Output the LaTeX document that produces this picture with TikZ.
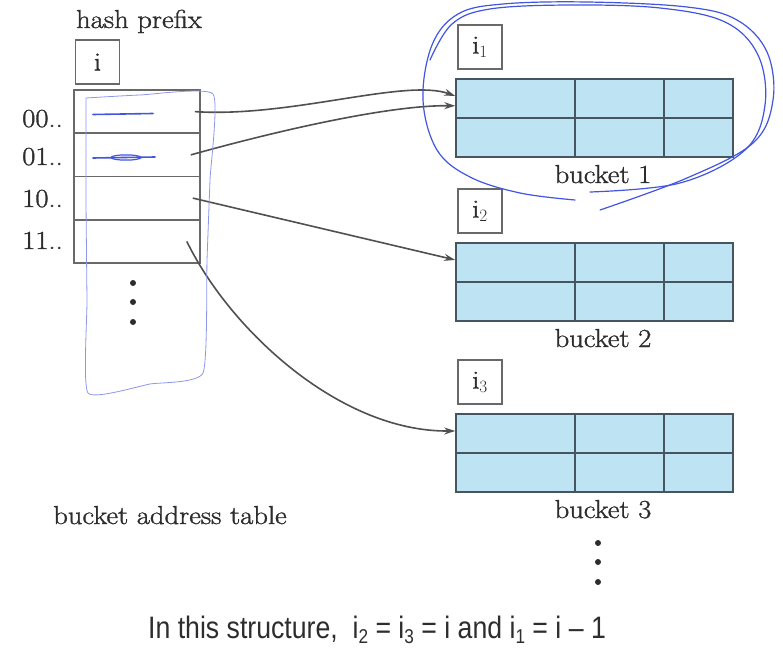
\documentclass[tikz,border=0pt]{standalone}
\usepackage{fontspec}
\usetikzlibrary{arrows.meta}
\newfontfamily\capfont[FakeStretch=0.86]{Liberation Sans}
\newfontfamily\serfont[FakeBold=1.3,FakeStretch=1.1]{Latin Modern Roman}
\definecolor{inkgray}{RGB}{45,45,45}
\definecolor{boxgray}{RGB}{105,105,105}
\definecolor{gridgray}{RGB}{70,85,95}
\definecolor{bucketblue}{RGB}{190,227,242}
\definecolor{ptrgray}{RGB}{80,80,80}
\definecolor{pen}{RGB}{65,85,225}
\definecolor{penlight}{RGB}{140,150,235}
\newcommand{\lbl}{\serfont\fontsize{26}{30}\selectfont}
\newcommand{\capsub}[1]{\raisebox{-0.35ex}{\fontsize{20}{20}\selectfont #1}}

\begin{document}
\begin{tikzpicture}[x=1pt,y=1pt,yscale=-1,
  txt/.style={font=\lbl,text=inkgray,inner sep=0pt},
  smallbox/.style={draw=boxgray,line width=1.6pt,minimum width=44pt,minimum height=44pt,inner sep=0pt,font=\lbl,text=inkgray},
  tabrow/.style={draw=boxgray,line width=1.6pt,minimum width=126pt,minimum height=43.25pt,inner sep=0pt},
  bucket/.style={draw=gridgray,line width=1.6pt,fill=bucketblue,minimum width=277pt,minimum height=78pt,inner sep=0pt},
  grid/.style={draw=gridgray,line width=1.6pt},
  ptr/.style={draw=ptrgray,line width=1.6pt,-{Stealth[length=11pt,width=7pt]}},
  hand/.style={draw=pen,line width=1.2pt,line cap=round,line join=round}]
\useasboundingbox (0,0) rectangle (783,655);

% bucket address table
\node[txt,anchor=base] (hp) at (139,28) {hash prefix};
\node[smallbox] (ibox) at (97.5,62) {i};
\node[tabrow] (r0) at (137,111.6) {};
\node[tabrow] (r1) at (137,154.9) {};
\node[tabrow] (r2) at (137,198.1) {};
\node[tabrow] (r3) at (137,241.4) {};
\node[txt,anchor=base east] (l0) at (63,127) {00..};
\node[txt,anchor=base east] (l1) at (63,165) {01..};
\node[txt,anchor=base east] (l2) at (63,207) {10..};
\node[txt,anchor=base east] (l3) at (63,249) {11..};
\foreach \y in {283,302,322}
  \fill[inkgray] (133,\y) circle (3);
\node[txt,anchor=base] (tbl) at (170,524) {bucket address table};

% buckets
\foreach \n/\y in {1/79,2/243,3/414}{
  \node[smallbox] (d\n) at (480,{\y-32}) {i$_\n$};
  \node[bucket] (b\n) at (594.5,{\y+39}) {};
  \draw[grid] (b\n.west) -- (b\n.east);
  \draw[grid] (575,\y) -- (575,{\y+78});
  \draw[grid] (664,\y) -- (664,{\y+78});
  \node[txt,anchor=base] (bl\n) at (603,{\y+104}) {bucket \n};
}
\foreach \y in {543,562,582}
  \fill[inkgray] (598,\y) circle (3);

% pointers
\draw[ptr] ([xshift=-6pt]r0.east) .. controls (290,118) and (405,78) .. (b1.171);
\draw[ptr] ([xshift=-10pt]r1.east) .. controls (280,130) and (390,105) .. (b1.175.5);
\draw[ptr] ([xshift=-8pt]r2.east) -- (b2.171);
\draw[ptr] ([xshift=-14pt]r3.east) .. controls (230,330) and (340,432) .. (b3.171);

% pen marks
\draw[hand] plot[smooth,tension=0.6] coordinates {(600,210) (687,178) (753,143) (773,100) (767,52) (737,20) (687,7) (587,2) (503,4) (458,14) (432,45) (423,100) (437,150) (470,177) (520,193) (575,200)};
\draw[hand] plot[smooth,tension=0.6] coordinates {(590,192) (680,183) (745,150) (765,105) (758,55) (725,22) (660,8) (570,5) (490,9) (452,24) (430,60)};
\draw[draw=penlight,line width=0.8pt,line join=round] plot[smooth,tension=0.3] coordinates {(86,98) (140,95) (213,94) (210,180) (207,260) (203,373) (150,384) (88,393) (87,300) (86,200) (86,98)};
\draw[hand,line width=1.6pt] (93,114.5) -- (153,113.5);
\draw[hand,line width=1.6pt] (93,158) -- (155,157);
\draw[hand] (126,157.5) ellipse (15 and 2.6);

\node[font=\capfont\fontsize{31}{36}\selectfont,text=inkgray,inner sep=0pt,anchor=base] (note) at (377,638) {In this structure,\ \ i\capsub{2} = i\capsub{3} = i and i\capsub{1} = i – 1};
\end{tikzpicture}
\end{document}
